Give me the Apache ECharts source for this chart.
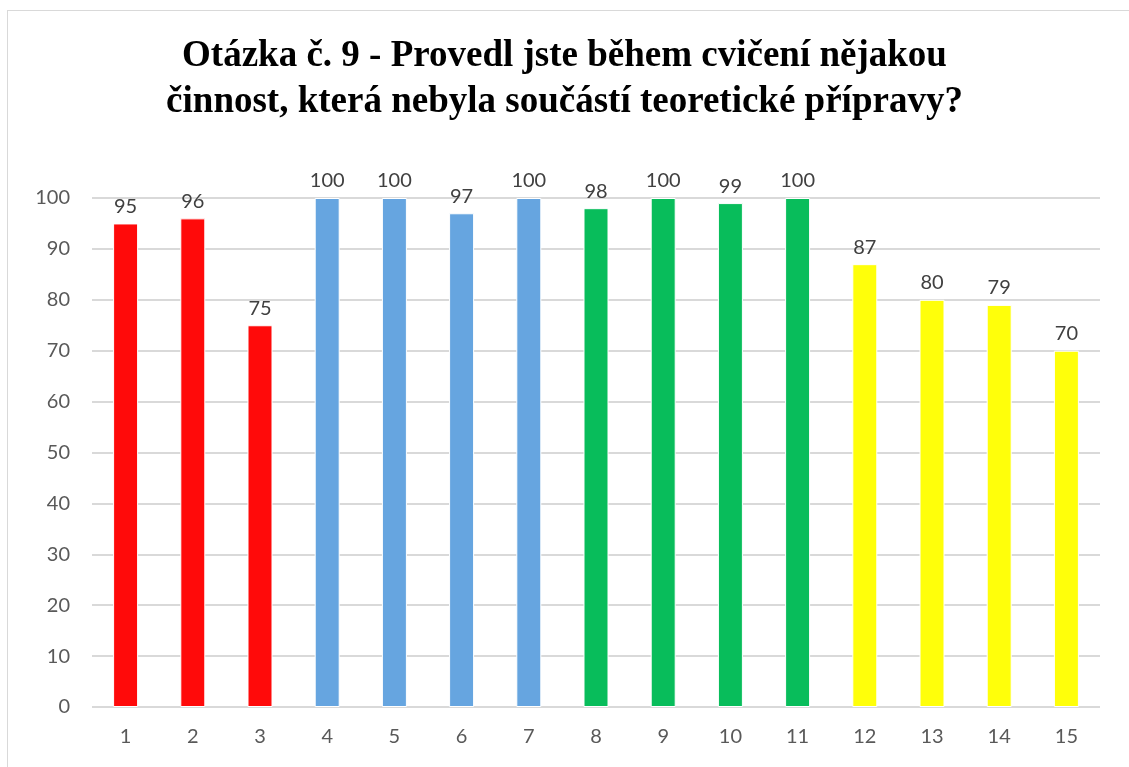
<!DOCTYPE html>
<html>
<head>
<meta charset="utf-8">
<script src="https://cdn.jsdelivr.net/npm/echarts@6/dist/echarts.min.js"></script>
<style>
  html, body { margin: 0; padding: 0; background: #fff; overflow: hidden; }
  #frame { position: absolute; left: 7px; top: 10px; width: 1200px; height: 800px; border: 1px solid #d9d9d9; }
  #chart { position: absolute; left: 0; top: 0; width: 1129px; height: 767px; }
</style>
</head>
<body>
<div id="frame"></div>
<div id="chart"></div>
<script>
const categories = ['1', '2', '3', '4', '5', '6', '7', '8', '9', '10', '11', '12', '13', '14', '15']
const values = [95, 96, 75, 100, 100, 97, 100, 98, 100, 99, 100, 87, 80, 79, 70]
const barColors = [
  '#FF0A0A', '#FF0A0A', '#FF0A0A',
  '#66A5E0', '#66A5E0', '#66A5E0', '#66A5E0',
  '#08BD5B', '#08BD5B', '#08BD5B', '#08BD5B',
  '#FFFF0A', '#FFFF0A', '#FFFF0A', '#FFFF0A',
]
const yTicks = { min: 0, max: 100, interval: 10 }

const chart = echarts.init(document.getElementById('chart'))

chart.setOption({
  backgroundColor: 'transparent',
  animation: false,
  title: {
    text: 'Otázka č. 9 - Provedl jste během cvičení nějakou\nčinnost, která nebyla součástí teoretické přípravy?',
    left: 'center',
    top: 28,
    textStyle: {
      fontFamily: 'Liberation Serif',
      fontWeight: 'bold',
      fontSize: 37,
      lineHeight: 46,
      color: '#000',
    },
  },
  grid: { left: 92, right: 29, top: 198, bottom: 60 },
  xAxis: {
    type: 'category',
    data: categories,
    axisLine: { show: false },
    axisTick: { show: false },
    axisLabel: { color: '#595959', fontSize: 20, fontFamily: 'Lato', margin: 20 },
  },
  yAxis: {
    type: 'value',
    min: yTicks.min,
    max: yTicks.max,
    interval: yTicks.interval,
    axisLine: { show: false },
    axisTick: { show: false },
    axisLabel: { color: '#595959', fontSize: 20, fontFamily: 'Lato', margin: 22 },
    splitLine: { lineStyle: { color: '#d9d9d9', width: 2 } },
  },
  series: [{
    type: 'bar',
    barWidth: 25,
    data: values.map((v, i) => ({
      value: v,
      itemStyle: { color: barColors[i], borderColor: '#fff', borderWidth: 1 },
    })),
    label: {
      show: true,
      position: 'top',
      distance: 7,
      color: '#404040',
      fontSize: 20,
      fontFamily: 'Lato',
    },
  }],
})
</script>
</body>
</html>
